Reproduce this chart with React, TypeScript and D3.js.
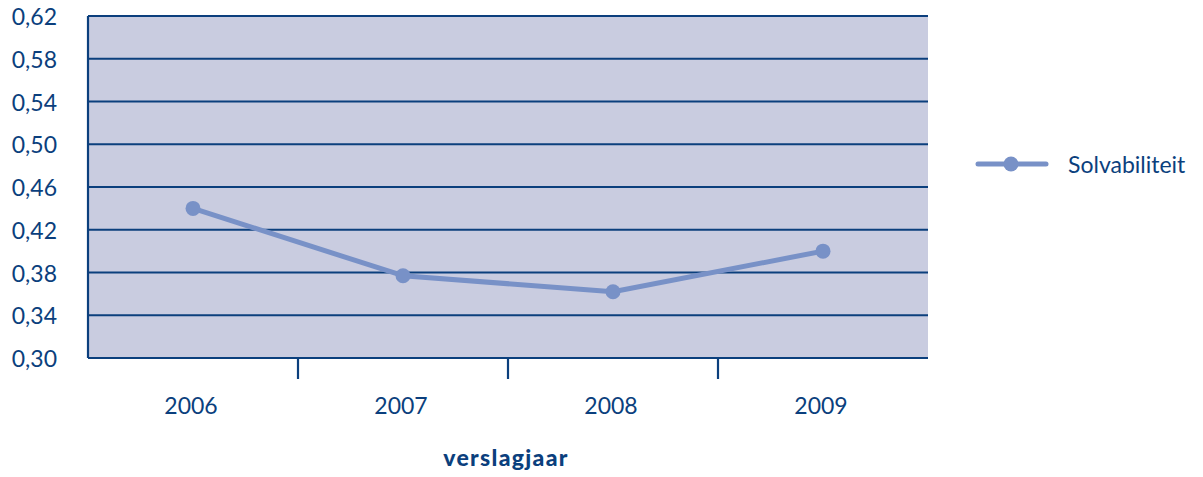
import React from "react";
import * as d3 from "d3";

const years = ["2006", "2007", "2008", "2009"];
const solvabiliteit = [0.44, 0.377, 0.362, 0.4];
const yTicks = [0.3, 0.34, 0.38, 0.42, 0.46, 0.5, 0.54, 0.58, 0.62];
const seriesName = "Solvabiliteit";
const xTitle = "verslagjaar";

const W = 1203, H = 477;
const left = 88, right = 928, top = 16, bottom = 358;
const navy = "#0b3f7d";
const lineColor = "#7891c7";
const bg = "#c9cce0";
const font = "Lato, 'Open Sans', sans-serif";

export default function App() {
  const x = d3.scaleBand<string>().domain(years).range([left, right]);
  const y = d3.scaleLinear().domain([0.3, 0.62]).range([bottom, top]);
  const line = d3
    .line<number>()
    .x((_, i) => (x(years[i]) as number) + x.bandwidth() / 2)
    .y((d) => y(d));
  const fmt = (v: number) => v.toFixed(2).replace(".", ",");
  const boundaries = years.slice(1).map((yr) => x(yr) as number);
  return (
    <svg
      width={W}
      height={H}
      style={{ position: "fixed", left: 0, top: 0, background: "#fff" }}
    >
      <rect x={left} y={top} width={right - left} height={bottom - top} fill={bg} />
      {yTicks.map((t) => (
        <line key={t} x1={left} x2={right} y1={y(t)} y2={y(t)} stroke={navy} strokeWidth={2.2} />
      ))}
      <line x1={left} x2={left} y1={top} y2={bottom} stroke={navy} strokeWidth={2.2} />
      {boundaries.map((b) => (
        <line key={b} x1={b} x2={b} y1={bottom} y2={bottom + 21} stroke={navy} strokeWidth={2.2} />
      ))}
      {yTicks.map((t) => (
        <text
          key={"l" + t}
          x={57}
          y={y(t) + 9}
          textAnchor="end"
          fontFamily={font}
          fontSize={23}
          fill={navy}
        >
          {fmt(t)}
        </text>
      ))}
      {years.map((yr) => (
        <text
          key={yr}
          x={(x(yr) as number) + x.bandwidth() / 2 - 2}
          y={414}
          textAnchor="middle"
          fontFamily={font}
          fontSize={23}
          fill={navy}
        >
          {yr}
        </text>
      ))}
      <text
        x={506}
        y={466}
        textAnchor="middle"
        fontFamily={font}
        fontSize={23}
        fontWeight={900}
        letterSpacing={1.3}
        fill={navy}
      >
        {xTitle}
      </text>
      <path d={line(solvabiliteit) || ""} fill="none" stroke={lineColor} strokeWidth={5} strokeLinejoin="round" />
      {solvabiliteit.map((v, i) => (
        <circle key={i} cx={(x(years[i]) as number) + x.bandwidth() / 2} cy={y(v)} r={7.5} fill={lineColor} />
      ))}
      <line x1={978} x2={1046} y1={164} y2={164} stroke={lineColor} strokeWidth={5} strokeLinecap="round" />
      <circle cx={1011} cy={164} r={7.5} fill={lineColor} />
      <text x={1068} y={173} fontFamily={font} fontSize={23} fill={navy}>
        {seriesName}
      </text>
    </svg>
  );
}
